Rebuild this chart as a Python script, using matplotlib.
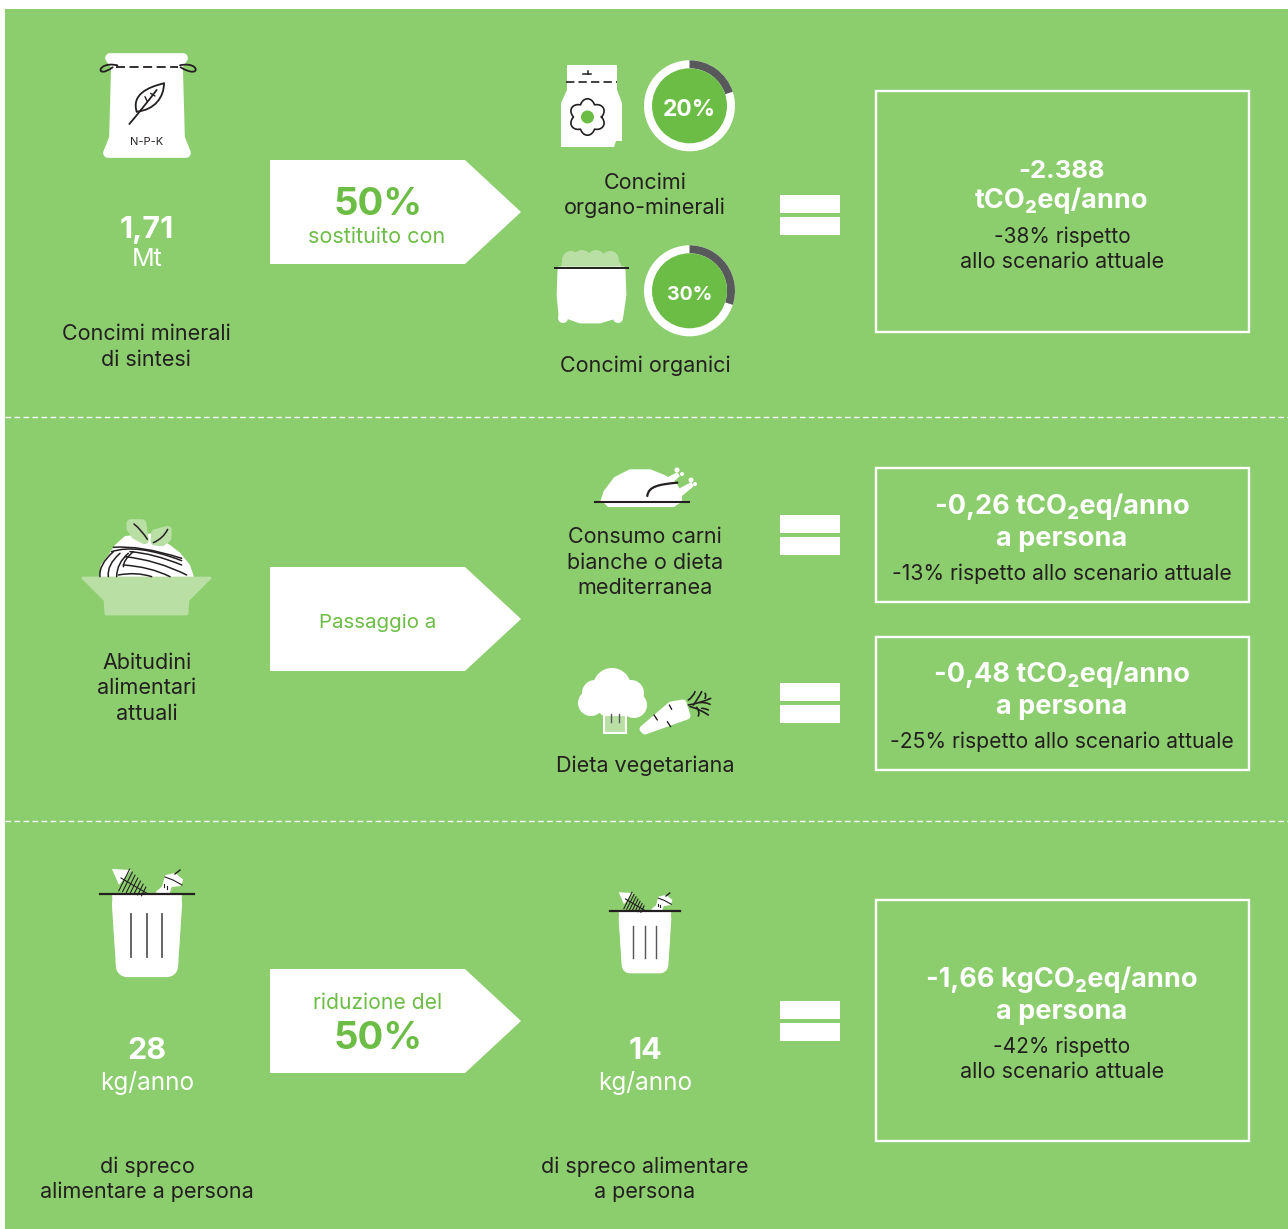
import numpy as np
import matplotlib
matplotlib.use('Agg')
import matplotlib.pyplot as plt
from matplotlib.patches import Polygon, Rectangle, Circle, Wedge, PathPatch
from matplotlib.path import Path

plt.rcParams['font.family'] = ['Inter', 'Noto Sans', 'DejaVu Sans']

# data
ring_values = [20, 30]
ring_labels = ['20%', '30%']
section1_left = ['1,71', 'Mt', 'Concimi minerali', 'di sintesi']
section1_arrow = ['50%', 'sostituito con']
section1_names = ['Concimi', 'organo-minerali', 'Concimi organici']
section1_box = ['-2.388', 'tCO₂eq/anno', '-38% rispetto', 'allo scenario attuale']
section2_left = ['Abitudini', 'alimentari', 'attuali']
section2_arrow = 'Passaggio a'
section2_names = ['Consumo carni', 'bianche o dieta', 'mediterranea', 'Dieta vegetariana']
section2_box1 = ['-0,26 tCO₂eq/anno', 'a persona', '-13% rispetto allo scenario attuale']
section2_box2 = ['-0,48 tCO₂eq/anno', 'a persona', '-25% rispetto allo scenario attuale']
section3_left = ['28', 'kg/anno', 'di spreco', 'alimentare a persona']
section3_arrow = ['riduzione del', '50%']
section3_mid = ['14', 'kg/anno', 'di spreco alimentare', 'a persona']
section3_box = ['-1,66 kgCO₂eq/anno', 'a persona', '-42% rispetto', 'allo scenario attuale']

BG = '#8CCE6E'
GREEN = '#6CBD45'
LIGHT = '#B9DFA5'
DARK = '#231F20'
GREY = '#58595B'
WHITE = '#FFFFFF'

fig = plt.figure(figsize=(12.88, 12.29), dpi=100)
ax = fig.add_axes([0, 0, 1, 1])
ax.set_xlim(0, 1288)
ax.set_ylim(1229, 0)
ax.axis('off')

ax.add_patch(Rectangle((5, 9), 1283, 1220, fc=BG, ec='none'))


def label(x, y, s, size=15.5, color=DARK, weight='normal'):
    ax.text(x, y + 4, s, ha='center', va='center', fontsize=size, color=color, fontweight=weight)


def poly(pts, fc=WHITE, round_px=0, z=2):
    ax.add_patch(Polygon(pts, closed=True, fc=fc, ec=fc if round_px else 'none', lw=round_px,
                         joinstyle='round', zorder=z))


def crop(ox, oy, pts):
    return [(ox + a / 3, oy + b / 3) for a, b in pts]


def curve(ox, oy, pts, lw=1.3, color=DARK, z=4):
    p = crop(ox, oy, pts)
    if len(p) == 2:
        codes = [Path.MOVETO, Path.LINETO]
    elif len(p) == 3:
        codes = [Path.MOVETO, Path.CURVE3, Path.CURVE3]
    else:
        codes = [Path.MOVETO, Path.CURVE4, Path.CURVE4, Path.CURVE4]
    ax.add_patch(PathPatch(Path(p, codes), fc='none', ec=color, lw=lw, zorder=z, capstyle='round'))


def arrow(y0):
    poly([(270, y0), (465, y0), (521, y0 + 52), (465, y0 + 104), (270, y0 + 104)])


def box(x0, y0, x1, y1):
    ax.add_patch(Rectangle((x0, y0), x1 - x0, y1 - y0, fc='none', ec=WHITE, lw=1.7))


def equals(y0, y1):
    ax.add_patch(Rectangle((780, y0), 60, 18, fc=WHITE, ec='none'))
    ax.add_patch(Rectangle((780, y1), 60, 18, fc=WHITE, ec='none'))


def ring(cy, value, text, size):
    cx = 689.5
    ax.add_patch(Circle((cx, cy), 45.5, fc=WHITE, ec='none', zorder=2))
    # y axis is flipped so angles run clockwise from the top
    ax.add_patch(Wedge((cx, cy), 45.5, -90, -90 + value * 3.6, width=8, fc=GREY, ec='none', zorder=3))
    ax.add_patch(Circle((cx, cy), 37.5, fc=GREEN, ec='none', zorder=4))
    ax.text(cx, cy + 4, text, ha='center', va='center', fontsize=size, color=WHITE, fontweight='bold', zorder=5)


def trash(cx, ly, k):
    r = 16 * k
    poly([(cx - 24 * k, ly + 10 * k), (cx + 24 * k, ly + 10 * k), (cx + 20 * k, ly + 72 * k), (cx - 20 * k, ly + 72 * k)],
         round_px=r)
    poly([(cx - 35 * k, ly), (cx + 35 * k, ly), (cx + 32 * k, ly + 50 * k), (cx - 32 * k, ly + 50 * k)])
    ax.plot([cx - 47 * k, cx + 47 * k], [ly, ly], color=DARK, lw=1.6, zorder=5)
    for dx in (-16, 0, 15):
        ax.plot([cx + dx * k] * 2, [ly + 20 * k, ly + 63 * k], color=GREY, lw=1.3 * max(k, 0.8), zorder=5)
    # fish
    poly([(cx - 35 * k, ly - 25 * k), (cx - 16 * k, ly - 24 * k), (cx - 28 * k, ly - 9 * k)], z=3)
    ax.plot([cx - 26 * k, cx + 1 * k], [ly - 16 * k, ly], color=DARK, lw=0.8, zorder=4)
    for t in (0.12, 0.24, 0.36, 0.48, 0.6, 0.72, 0.84):
        mx, my = cx + (-26 + 27 * t) * k, ly + (-16 + 16 * t) * k
        h = 9 * (1.1 - t) + 2
        ax.plot([mx - 0.5 * h * k, mx + 0.5 * h * k], [my + h * k, my - h * k], color=DARK, lw=0.8, zorder=4)
    # apple core
    poly([(cx + 19 * k, ly - 18 * k), (cx + 28 * k, ly - 20 * k), (cx + 35 * k, ly - 14 * k), (cx + 33 * k, ly - 9 * k),
          (cx + 24 * k, ly - 8 * k), (cx + 22 * k, ly - 2 * k), (cx + 10 * k, ly - 2 * k), (cx + 16 * k, ly - 7 * k)],
         round_px=1.5, z=3)
    ax.plot([cx + 28 * k, cx + 33 * k], [ly - 20 * k, ly - 24 * k], color=DARK, lw=1, zorder=4)
    ax.plot([cx + 18 * k, cx + 26 * k, cx + 35 * k], [ly - 17 * k, ly - 14 * k, ly - 9 * k], color=DARK, lw=0.8, zorder=4)
    ax.plot([cx + 17 * k, cx + 17 * k], [ly - 10 * k, ly - 7 * k], color=DARK, lw=0.8, zorder=4)
    ax.plot([cx + 20 * k, cx + 20 * k], [ly - 8 * k, ly - 5 * k], color=DARK, lw=0.8, zorder=4)


# section separators
for y in (417, 821):
    ax.plot([5, 1288], [y, y], color=WHITE, lw=1, dashes=(4, 2.5))

# ---- section 1 ----
# N-P-K bag
poly([(110, 58), (183, 58), (178, 66), (180, 138), (186, 153), (108, 153), (114, 138), (116, 66)], round_px=7)
ax.plot([116, 178], [66.5, 66.5], color=DARK, lw=1.3, dashes=(5, 2.5), zorder=4)
curve(60, 30, [(172, 106), (110, 92), (105, 150), (158, 112)], lw=1.3)
curve(60, 30, [(360, 106), (420, 92), (425, 150), (362, 112)], lw=1.3)
curve(60, 30, [(230, 245), (215, 195), (260, 172), (312, 160)], lw=1.3)
curve(60, 30, [(230, 245), (285, 240), (312, 200), (312, 160)], lw=1.3)
curve(60, 30, [(208, 282), (240, 245), (290, 180)], lw=1.3)
curve(60, 30, [(255, 200), (262, 215)], lw=1)
curve(60, 30, [(272, 190), (285, 198)], lw=1)
ax.text(147, 142, 'N-P-K', ha='center', va='center', fontsize=8, color=DARK, zorder=4)

label(147, 226, section1_left[0], 22, WHITE, 'bold')
label(147, 256, section1_left[1], 18, WHITE)
label(146, 330, section1_left[2])
label(146, 356, section1_left[3])

arrow(160)
label(378, 201, section1_arrow[0], 27.5, GREEN, 'bold')
label(377, 233, section1_arrow[1], 15.5, GREEN)

# organo-minerali bag
poly([(567, 65), (617, 65), (617, 90), (622, 103), (622, 141), (616, 141), (614, 147), (561, 147), (561, 103), (567, 90)])
ax.plot([566, 617], [82, 82], color=DARK, lw=1.2, dashes=(5, 2.5), zorder=4)
ax.plot([583, 591], [74, 74], color=DARK, lw=1.1, zorder=4)
ax.plot([588, 588], [71, 74], color=DARK, lw=1.1, zorder=4)
theta = np.linspace(0, 2 * np.pi, 240)
petal = 14 + 4.2 * np.abs(np.cos(3 * theta + np.pi / 2))
ax.plot(587.5 + petal * np.cos(theta), 117 + petal * np.sin(theta), color=DARK, lw=1.2, zorder=4)
ax.add_patch(Circle((587.5, 117), 6.5, fc=GREEN, ec='none', zorder=4))

ring(105.8, ring_values[0], ring_labels[0], 16.5)
label(645, 179, section1_names[0])
label(645, 204, section1_names[1])

# organic sack
for cx, cy, r in ((571, 260, 9), (582, 259, 9), (596, 259, 9), (610, 260, 9)):
    ax.add_patch(Circle((cx, cy), r, fc=LIGHT, ec='none', zorder=2))
poly([(562, 262), (620, 262), (622, 268), (561, 268)], fc=LIGHT)
poly([(559, 268), (624, 268), (625, 295), (622, 316), (560, 316), (558, 295)], round_px=2)
poly([(563, 316), (620, 316), (600, 322), (580, 322)], round_px=2)
ax.add_patch(Circle((563, 318), 5, fc=WHITE, ec='none', zorder=2))
ax.add_patch(Circle((618, 318), 5, fc=WHITE, ec='none', zorder=2))
ax.plot([555, 628], [268, 268], color=DARK, lw=1.4, zorder=5)

ring(290.8, ring_values[1], ring_labels[1], 14)
label(645, 362, section1_names[2])

equals(195, 217)
box(876, 91, 1249, 332)
label(1062, 167, section1_box[0], 18.5, WHITE, 'bold')
label(1062, 197, section1_box[1], 19.5, WHITE, 'bold')
label(1062, 233, section1_box[2], 15)
label(1062, 258, section1_box[3])

# ---- section 2 ----
mound = crop(70, 510, [(88, 201), (92, 165), (115, 135), (135, 105), (165, 78), (250, 70), (300, 105), (330, 128),
                       (360, 165), (372, 201)])
poly(mound)
strands = [
    [(125, 125), (200, 100), (335, 152)],
    [(130, 112), (210, 105), (335, 145)],
    [(180, 125), (250, 130), (335, 165)],
    [(165, 140), (260, 150), (350, 195)],
    [(130, 125), (85, 165), (90, 200)],
    [(150, 130), (110, 165), (115, 200)],
    [(175, 130), (140, 160), (140, 200)],
    [(190, 125), (160, 150), (160, 170)],
    [(160, 165), (240, 170), (300, 200)],
    [(145, 195), (200, 185), (245, 200)],
]
for pts in strands:
    curve(70, 510, pts, lw=1.1)
poly(crop(70, 510, [(182, 40), (216, 40), (224, 90), (196, 76), (182, 54)]), fc=LIGHT, round_px=6, z=5)
poly(crop(70, 510, [(256, 70), (293, 60), (292, 84), (276, 96), (254, 94)]), fc=LIGHT, round_px=6, z=5)
curve(70, 510, [(192, 42), (215, 60), (232, 88)], lw=1.1, z=6)
curve(70, 510, [(293, 58), (280, 85), (250, 98)], lw=1.1, z=6)
poly([(83, 578), (210, 578), (188, 600), (187, 614), (106, 614), (105, 600)], fc=LIGHT, round_px=2, z=3)
label(147, 659, section2_left[0])
label(147, 684, section2_left[1])
label(147, 710, section2_left[2])

arrow(567)
label(378, 619, section2_arrow, 14.8, GREEN)

# chicken
poly(crop(550, 460, [(155, 125), (165, 95), (195, 55), (240, 32), (300, 32), (345, 50), (375, 70), (392, 100), (392, 125)]),
     round_px=2)
poly([(604, 503), (680, 503), (674, 507), (608, 507)])
poly([(664, 480), (677, 473), (679, 476), (670, 484)], round_px=1)
poly([(676, 491), (691, 483), (693, 486), (682, 495)], round_px=1)
ax.add_patch(Circle((677, 470), 2.5, fc=WHITE, ec='none', zorder=2))
ax.add_patch(Circle((682, 474), 2, fc=WHITE, ec='none', zorder=2))
ax.add_patch(Circle((691, 480), 2.5, fc=WHITE, ec='none', zorder=2))
ax.add_patch(Circle((695, 484), 2, fc=WHITE, ec='none', zorder=2))
ax.plot([595, 689], [502, 502], color=DARK, lw=1.5, zorder=5)
curve(550, 460, [(292, 108), (295, 78), (330, 73), (382, 68)], lw=1.6)
label(645, 533, section2_names[0])
label(645, 559, section2_names[1])
label(645, 584, section2_names[2])

equals(515, 537)
box(876, 468, 1249, 602)
label(1062, 503, section2_box1[0], 19.5, WHITE, 'bold')
label(1062, 535, section2_box1[1], 19.5, WHITE, 'bold')
label(1062, 570, section2_box1[2], 15.2)

# broccoli and carrot
for cx, cy, r in ((612, 687, 19), (595, 693, 13), (631, 693, 13), (591, 703, 13), (634, 705, 13), (612, 700, 18)):
    ax.add_patch(Circle((cx, cy), r, fc=WHITE, ec='none', zorder=2))
poly([(604, 712), (626, 712), (625, 732), (605, 732)], fc=LIGHT, z=3)
ax.add_patch(Polygon([(604, 712), (626, 712), (626, 733), (604, 733)], closed=True, fc='none', ec=WHITE, lw=1.5, zorder=4))
ax.add_patch(Rectangle((604, 708), 22, 8, fc=WHITE, ec='none', zorder=3))
ax.plot([611, 611], [714, 722], color=GREY, lw=1, zorder=5)
ax.plot([619, 619], [714, 722], color=GREY, lw=1, zorder=5)
poly([(643, 729), (671, 705), (683, 703), (687, 716), (645, 731)], round_px=5)
curve(550, 460, [(312, 765), (322, 780)], lw=1)
curve(550, 460, [(358, 735), (365, 748)], lw=1)
curve(550, 460, [(352, 785), (362, 800)], lw=1)
for pts in ([(415, 735), (450, 730), (482, 715)], [(420, 740), (445, 745), (475, 765)],
            [(415, 720), (430, 710), (435, 695)], [(430, 735), (445, 715), (455, 695)],
            [(440, 742), (450, 755), (445, 768)], [(450, 728), (465, 725), (480, 733)],
            [(465, 715), (470, 705), (465, 700)], [(455, 745), (465, 745), (475, 750)]):
    curve(550, 460, pts, lw=1.2)
label(645, 762, section2_names[3])

equals(683, 705)
box(876, 637, 1249, 770)
label(1062, 671, section2_box2[0], 19.5, WHITE, 'bold')
label(1062, 703, section2_box2[1], 19.5, WHITE, 'bold')
label(1062, 738, section2_box2[2], 15.2)

# ---- section 3 ----
trash(147, 894, 1)
label(147, 1047, section3_left[0], 22, WHITE, 'bold')
label(147, 1079, section3_left[1], 17.5, WHITE)
label(147, 1163, section3_left[2])
label(147, 1188, section3_left[3])

arrow(969)
label(378, 999, section3_arrow[0], 15.2, GREEN)
label(378, 1035, section3_arrow[1], 27.5, GREEN, 'bold')

trash(645, 911, 0.75)
label(645, 1047, section3_mid[0], 22, WHITE, 'bold')
label(645, 1079, section3_mid[1], 17.5, WHITE)
label(645, 1163, section3_mid[2])
label(645, 1188, section3_mid[3])

equals(1001, 1023)
box(876, 900, 1249, 1141)
label(1062, 976, section3_box[0], 19.5, WHITE, 'bold')
label(1062, 1008, section3_box[1], 19.5, WHITE, 'bold')
label(1062, 1043, section3_box[2], 15)
label(1062, 1068, section3_box[3])

fig.savefig('out.png', dpi=100)
